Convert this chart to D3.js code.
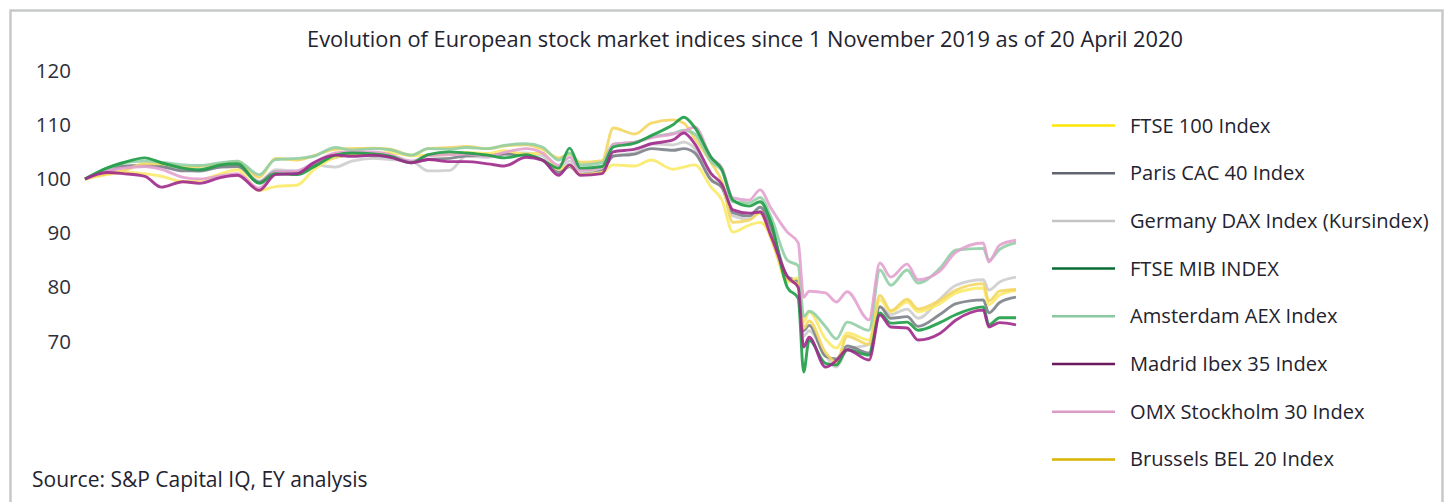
<!DOCTYPE html>
<html>
<head>
<meta charset="utf-8">
<script src="https://cdn.jsdelivr.net/npm/d3@7"></script>
<style>
  body { margin: 0; background: #fff; }
  svg { display: block; font-family: "Open Sans", "Noto Sans", sans-serif; }
  .tick text { fill: #2e2e38; }
</style>
</head>
<body>
<svg id="chart" width="1451" height="502"></svg>
<script>
// sampling dates shared by every series
var dates = ['2019-11-01','2019-11-05','2019-11-08','2019-11-12','2019-11-15','2019-11-19','2019-11-22','2019-11-26',
	'2019-11-29','2019-12-03','2019-12-06','2019-12-10','2019-12-13','2019-12-17','2019-12-20','2019-12-24','2019-12-27',
	'2019-12-31','2020-01-03','2020-01-07','2020-01-10','2020-01-14','2020-01-17','2020-01-21','2020-01-24','2020-01-27',
	'2020-01-29','2020-01-31','2020-02-04','2020-02-06','2020-02-10','2020-02-13','2020-02-17','2020-02-19','2020-02-21',
	'2020-02-24','2020-02-26','2020-02-28','2020-03-02','2020-03-04','2020-03-06','2020-03-09','2020-03-11','2020-03-12',
	'2020-03-13','2020-03-16','2020-03-18','2020-03-20','2020-03-24','2020-03-26','2020-03-28','2020-03-31','2020-04-02',
	'2020-04-06','2020-04-09','2020-04-14','2020-04-15','2020-04-17','2020-04-20'];

var ftse100 = [100,100.8,101.2,101,100.5,99.5,99.7,101,101.7,97.9,98.6,98.9,101.7,104,104.5,104.6,104.9,
	104.3,104.4,104.5,104.9,104.7,105.2,104.6,104.8,101.8,102.5,100.8,101.2,102.6,102.4,103.5,101.8,102.2,102.6,
	98.5,96.1,90.2,91.5,92,89.5,81,81.8,73.6,75.5,70.5,68.8,71.6,70.3,77.7,75.5,77.3,75.5,77,79,79.9,76.8,78.6,79.4];
var cac40 = [100,101.3,102.3,102.5,102.3,101.5,101.5,102.2,102.3,99.4,101.3,101.2,102.6,104,104.4,104.3,104.2,
	103.1,103.6,103.8,104.3,104.4,104.6,104.4,103.5,101.2,102.3,100.8,101.5,104.2,104.6,105.6,105.3,105.6,104.8,
	99.8,98.4,93.8,93.2,94.8,91.2,82,81,72,73,67.3,66.8,69.2,67.9,76.4,74.3,74.6,72.8,75,77,77.7,75.3,77.2,78.2];
var dax = [100,101.5,102.5,102.3,102.2,101.8,101.4,102.3,102.5,99.6,101.7,101.5,102.6,102.2,103.3,103.8,103.6,
	103.3,101.5,101.6,104.2,104,104.6,104.8,104.3,101.6,103.3,101.2,101.8,104.3,104.8,106.5,106.3,106.8,105.6,
	100,98.5,93.2,92.6,94,90.5,81.5,80.5,71,72,67.5,65.3,68.5,69.5,76.5,75,76,74.3,77.8,80.4,81.4,79.5,81,81.9];
var ftseMib = [100,102,103,103.9,103,102,101.7,102.6,102.8,99.2,101,100.8,102.2,104.4,104.8,104.6,104.2,
	103,104.5,105,104.8,104.4,103.9,104.5,103.5,102,105.7,102,102.3,105.9,106.6,108,110,111.4,109.5,
	104,101.7,96.1,95,95.8,92,80,78,64.4,70.3,66,65.7,68.5,67.5,75.3,73.4,73.6,72.1,73.5,75,76.4,73.1,74.4,74.4];
var aex = [100,102,103,103.3,103.1,102.6,102.5,103,103.3,100.8,103.6,103.8,104.2,105.8,105.3,105.6,105.4,
	104.4,105.6,105.5,105.8,105.6,106.2,106.5,105.9,103.5,104.8,102.6,103,106.4,106.8,107.8,108.4,109,108.3,
	103.2,101.5,95.8,95.6,96.6,93,85,84,74.6,75.6,72.8,70.5,73.6,72.1,83.2,80.4,83.2,80.8,83.5,86.9,87.2,85,87,88.2];
var ibex = [100,101.2,101,100.5,98.5,99.5,99.2,100.3,100.7,97.9,100.8,101,103,104.4,104.2,104.4,104,
	103,103.6,103.2,103.2,102.8,102.4,104,103.5,100.7,102.6,100.7,101,105,105.5,106.5,107.2,108.5,106.5,
	101,99,94.3,93.7,93.9,89.5,82,80,69,70.8,65.3,66.5,68.5,66.6,74.9,72.7,72.5,70.3,71.5,74,75.8,72.7,73.5,73.1];
var omx = [100,101.5,102,102.3,101.8,100.3,100,100.6,101,98.3,101.3,101.5,103,104.8,105,105,104.5,
	103.3,104.3,104.5,104.6,104.2,104.9,105.6,104.8,102.5,104,101.6,102.2,106.4,106.8,107.6,108.3,108.8,109.6,
	104,102,96.5,96.1,98,94.6,90.2,88.2,78.2,79.3,79,77.3,79.2,74,84.5,81.9,84.3,81.4,83,86.5,88.2,84.7,87.8,88.7];
var bel20 = [100,101,101.5,102.8,102.8,102.2,102.3,102.8,103.3,100.3,103.8,103.5,104.3,105.5,105.6,105.7,105.5,
	104.4,105.6,105.8,106,105.6,106.1,106.3,105.5,103.9,104.6,103.1,103.4,109.4,108.3,110.3,110.9,110.3,107.5,
	103,99.5,92,92.4,93.7,89,81.5,80.5,72.5,73.8,68,66.2,71,69.5,78.5,75.7,77.8,76,77.6,79.5,80.7,77.5,79.3,79.6];

var names = ['FTSE 100 Index', 'Paris CAC 40 Index', 'Germany DAX Index (Kursindex)', 'FTSE MIB INDEX',
	'Amsterdam AEX Index', 'Madrid Ibex 35 Index', 'OMX Stockholm 30 Index', 'Brussels BEL 20 Index'];
var series = [ftse100, cac40, dax, ftseMib, aex, ibex, omx, bel20];
var legendColors = ['#ffe600', '#5f6670', '#c4c6c4', '#0b6b34', '#8cc9a2', '#6c1a5c', '#dc9cc6', '#d9b300'];
var lineColors = ['#fbea6a', '#7c8288', '#cdcdcd', '#1c9c46', '#92cfa6', '#a02a8c', '#e3a2cf', '#f3d660'];
var drawOrder = [2, 1, 0, 7, 4, 6, 3, 5];
var yTicks = [70, 80, 90, 100, 110, 120];

var title = 'Evolution of European stock market indices since 1 November 2019 as of 20 April 2020';
var source = 'Source: S&P Capital IQ, EY analysis';

var svg = d3.select('#chart');
var parse = d3.timeParse('%Y-%m-%d');
var parsedDates = dates.map(parse);

var defs = svg.append('defs');
defs.append('filter').attr('id', 'soft')
	.append('feGaussianBlur').attr('stdDeviation', 0.45);

// frame
svg.append('rect')
	.attr('x', 10.5).attr('y', 10.5)
	.attr('width', 1432).attr('height', 520)
	.attr('fill', 'none')
	.attr('stroke', '#c6cac6')
	.attr('stroke-width', 2.5);

svg.append('text')
	.attr('x', 745).attr('y', 47)
	.attr('text-anchor', 'middle')
	.style('font-size', '21.8px')
	.attr('fill', '#23232f')
	.text(title);

var x = d3.scaleTime()
	.domain([parse('2019-11-01'), parse('2020-04-20')])
	.range([85, 1016]);

var y = d3.scaleLinear()
	.domain([60, 120])
	.range([395.8, 70.6]);

var yAxis = svg.append('g')
	.attr('transform', 'translate(85,0)')
	.call(d3.axisLeft(y).tickValues(yTicks).tickSize(0).tickPadding(14));
yAxis.select('.domain').remove();
yAxis.selectAll('text')
	.style('font-size', '20.5px')
	.style('font-family', '"Open Sans", "Noto Sans", sans-serif');

var line = d3.line()
	.x(function(d, i) { return x(parsedDates[i]); })
	.y(function(d) { return y(d); })
	.curve(d3.curveMonotoneX);

var plot = svg.append('g').classed('lines', true).attr('filter', 'url(#soft)');
drawOrder.forEach(function(k) {
	plot.append('path')
		.datum(series[k])
		.attr('d', line)
		.attr('fill', 'none')
		.attr('stroke', lineColors[k])
		.attr('stroke-width', 2.9)
		.attr('stroke-linejoin', 'round')
		.attr('stroke-opacity', 0.9);
});

// legend
var legend = svg.append('g').attr('transform', 'translate(1052,125.5)');
var rows = legend.selectAll('g').data(names).enter().append('g')
	.attr('transform', function(d, i) { return 'translate(0,' + (i * 47.7) + ')'; });
rows.append('line')
	.attr('x1', 0).attr('x2', 63)
	.attr('stroke', function(d, i) { return legendColors[i]; })
	.attr('stroke-width', 2.5);
rows.append('text')
	.attr('x', 78).attr('dy', '0.35em')
	.style('font-size', '20.1px')
	.attr('fill', '#23232f')
	.text(function(d) { return d; });

svg.append('text')
	.attr('x', 32).attr('y', 487)
	.style('font-size', '21px')
	.attr('fill', '#23232f')
	.text(source);
</script>
</body>
</html>
